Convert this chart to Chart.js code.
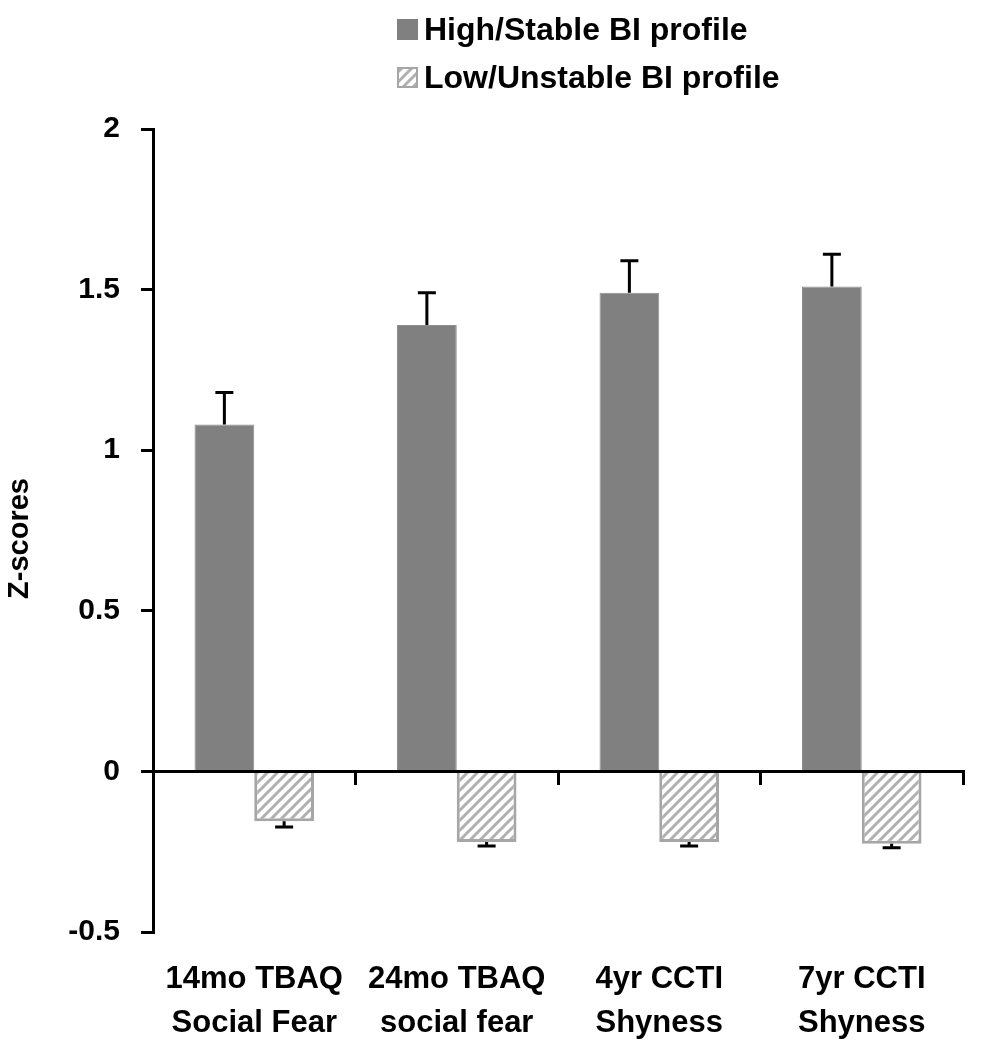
<!DOCTYPE html>
<html>
<head>
<meta charset="utf-8">
<script src="https://cdn.jsdelivr.net/npm/chart.js@4/dist/chart.umd.min.js"></script>
<style>
  body { margin: 0; background: #ffffff; }
  #wrap { width: 997px; height: 1050px; }
</style>
</head>
<body>
<div id="wrap"><canvas id="myChart" width="997" height="1050"></canvas></div>
<script>
// data
var categories = [['14mo TBAQ', 'Social Fear'], ['24mo TBAQ', 'social fear'], ['4yr CCTI', 'Shyness'], ['7yr CCTI', 'Shyness']];
var highStable = [1.08, 1.39, 1.49, 1.51];
var highStableErr = [0.10, 0.10, 0.10, 0.10];
var lowUnstable = [-0.155, -0.22, -0.22, -0.225];
var lowUnstableErr = [0.018, 0.012, 0.012, 0.013];
var seriesNames = ['High/Stable BI profile', 'Low/Unstable BI profile'];
var yMin = -0.5, yMax = 2, yStep = 0.5;
var yTitle = 'Z-scores';

var boldFont = '"Liberation Sans", Arial, sans-serif';

function makeHatch() {
    var c = document.createElement('canvas');
    c.width = 10; c.height = 10;
    var g = c.getContext('2d');
    g.fillStyle = '#ffffff';
    g.fillRect(0, 0, 10, 10);
    g.strokeStyle = '#b0b0b0';
    g.lineWidth = 3;
    g.beginPath();
    g.moveTo(-2, 12); g.lineTo(12, -2);
    g.moveTo(-7, 7); g.lineTo(7, -7);
    g.moveTo(3, 17); g.lineTo(17, 3);
    g.stroke();
    return g.createPattern(c, 'repeat');
}
var hatch = makeHatch();

// error bars, away from zero
var errorBars = {
    id: 'errorBars',
    afterDatasetsDraw: function (chart) {
        var ctx = chart.ctx;
        var yScale = chart.scales.y;
        ctx.save();
        ctx.strokeStyle = '#000000';
        ctx.lineWidth = 3;
        chart.data.datasets.forEach(function (ds, di) {
            var meta = chart.getDatasetMeta(di);
            meta.data.forEach(function (bar, i) {
                var v = ds.data[i];
                var e = ds.errors[i];
                var tip = yScale.getPixelForValue(v >= 0 ? v + e : v - e);
                ctx.beginPath();
                ctx.moveTo(bar.x, bar.y);
                ctx.lineTo(bar.x, tip);
                ctx.moveTo(bar.x - 9, tip);
                ctx.lineTo(bar.x + 9, tip);
                ctx.stroke();
            });
        });
        ctx.restore();
    }
};

// stacked legend and y title
var extras = {
    id: 'extras',
    afterDraw: function (chart) {
        var ctx = chart.ctx;
        ctx.save();
        ctx.font = 'bold 32px ' + boldFont;
        ctx.textBaseline = 'alphabetic';
        ctx.textAlign = 'left';
        chart.data.datasets.forEach(function (ds, i) {
            var top = 19 + i * 48;
            ctx.fillStyle = ds.backgroundColor;
            ctx.fillRect(397, top, 21, 21);
            if (ds.borderWidth > 1) {
                ctx.strokeStyle = ds.borderColor;
                ctx.lineWidth = 2;
                ctx.strokeRect(398, top + 1, 19, 19);
            }
            ctx.fillStyle = '#000000';
            ctx.fillText(ds.label, 424, top + 21);
        });

        var a = chart.chartArea;
        ctx.translate(20, (a.top + a.bottom) / 2 + 8);
        ctx.rotate(-Math.PI / 2);
        ctx.textAlign = 'center';
        ctx.textBaseline = 'middle';
        ctx.font = 'bold 29px ' + boldFont;
        ctx.fillText(yTitle, 0, 0);
        ctx.restore();
    }
};

var ctx = document.getElementById('myChart');
window.myBar = new Chart(ctx, {
    type: 'bar',
    data: {
        labels: categories,
        datasets: [{
            label: seriesNames[0],
            data: highStable,
            errors: highStableErr,
            backgroundColor: '#808080',
            borderColor: '#8e8e8e',
            borderWidth: 1
        }, {
            label: seriesNames[1],
            data: lowUnstable,
            errors: lowUnstableErr,
            backgroundColor: hatch,
            borderColor: '#a6a6a6',
            borderWidth: 3
        }]
    },
    options: {
        responsive: false,
        animation: false,
        datasets: { bar: { categoryPercentage: 0.59, barPercentage: 1.0 } },
        layout: { padding: { top: 129, right: 34, left: 0, bottom: 0 } },
        plugins: {
            legend: { display: false },
            tooltip: { enabled: false }
        },
        scales: {
            x: {
                offset: true,
                grid: { display: false, drawTicks: false },
                border: { display: false },
                ticks: {
                    color: '#000000',
                    padding: 26,
                    maxRotation: 0,
                    autoSkip: false,
                    font: { family: boldFont, size: 31, weight: 'bold', lineHeight: 1.4 }
                },
                afterFit: function (scale) { scale.height = 118; }
            },
            x2: {
                type: 'category',
                position: { y: 0 },
                offset: true,
                z: 1,
                grid: { offset: true, drawOnChartArea: false, color: '#000000', lineWidth: 3, tickLength: 12 },
                border: { display: true, color: '#000000', width: 3 },
                ticks: { display: false }
            },
            y: {
                min: yMin,
                max: yMax,
                z: 1,
                ticks: {
                    stepSize: yStep,
                    color: '#000000',
                    padding: 21,
                    font: { family: boldFont, size: 30, weight: 'bold' },
                    callback: function (value) { return String(value); }
                },
                grid: { drawOnChartArea: false, color: '#000000', lineWidth: 3, tickLength: 12 },
                border: { display: true, color: '#000000', width: 3 },
                afterFit: function (scale) { scale.width = 153; }
            }
        }
    },
    plugins: [errorBars, extras]
});
</script>
</body>
</html>
